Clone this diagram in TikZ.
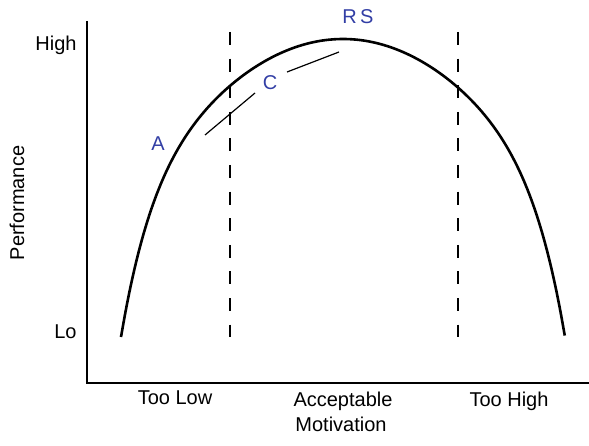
\documentclass[tikz,border=0pt]{standalone}
\usepackage{fontspec}
\setmainfont{Liberation Sans}
\definecolor{lblue}{RGB}{50,62,165}

\begin{document}
\begin{tikzpicture}[x=0.5pt,y=0.5pt,font=\fontsize{10}{12}\selectfont,
  axis/.style={line width=0.7pt},
  curve/.style={line width=1.3pt},
  zone/.style={line width=0.7pt,dash pattern=on 6.5pt off 6.8pt},
  tangent/.style={line width=0.6pt},
  lbl/.style={anchor=base,inner sep=0pt},
  pt/.style={lbl,text=lblue}]
  \useasboundingbox (0,0) rectangle (589,445);
  % axes
  \coordinate (top) at (87,424);
  \coordinate (origin) at (87,62);
  \coordinate (right) at (589,62);
  \draw[axis] (top)--(origin)--(right);
  % zone borders
  \coordinate (lowtop) at (230,413);
  \coordinate (lowbot) at (230,108);
  \coordinate (hightop) at (458,413);
  \coordinate (highbot) at (458,108);
  \draw[zone] (lowtop)--(lowbot);
  \draw[zone] (hightop)--(highbot);
  % performance curve
  \draw[curve] plot[domain=-1:1,samples=101,smooth]
    ({343+222*\x},{406-298*(0.6*\x*\x+0.4*(\x*\x)^4)});
  % tangent segments
  \coordinate (ta) at (205,310);
  \coordinate (tb) at (255,352);
  \coordinate (tc) at (287,373);
  \coordinate (td) at (339,393);
  \draw[tangent] (ta)--(tb);
  \draw[tangent] (tc)--(td);
  % labels
  \node[pt] (A) at (158,294.5) {A};
  \node[pt] (C) at (270,355) {C};
  \node[pt] (RS) at (358,421.5) {R\,S};
  \node[lbl,anchor=base east] (high) at (77,394) {High};
  \node[lbl,anchor=base east] (lo) at (77,107) {Lo};
  \node[rotate=90] (perf) at (17,242) {Performance};
  \node[lbl] (toolow) at (175,40.5) {Too Low};
  \node[lbl] (ok) at (343,38.3) {Acceptable};
  \node[lbl] (toohigh) at (509,38.3) {Too High};
  \node[lbl] (motiv) at (341,14) {Motivation};
\end{tikzpicture}
\end{document}
